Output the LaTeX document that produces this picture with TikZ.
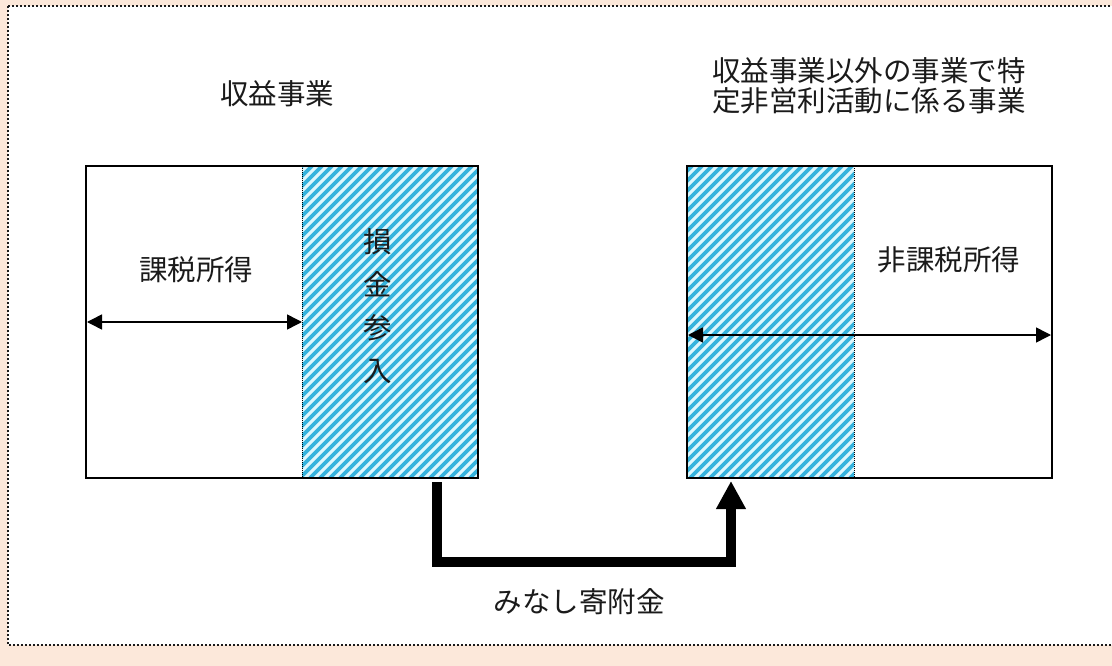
\documentclass[tikz,border=0pt]{standalone}
\usepackage{fontspec}
\setmainfont{Noto Sans CJK JP}
\usetikzlibrary{arrows.meta}
\definecolor{peach}{HTML}{FCE8DA}
\definecolor{stripe}{HTML}{35B3DD}
\definecolor{stripebg}{HTML}{DDF6FC}
\definecolor{ink}{HTML}{1A1A1A}
\begin{document}
\begin{tikzpicture}[x=1pt,y=-1pt,
  lbl/.style={inner sep=0pt, text=ink, font=\fontsize{28.5pt}{30pt}\selectfont},
  boxnode/.style={draw=black, line width=2pt, inner sep=0pt},
  divider/.style={draw=black, line width=1pt, dash pattern=on 1pt off 1pt},
  dimarrow/.style={draw=black, line width=1.5pt, {Triangle[length=15pt,width=15pt]}-{Triangle[length=15pt,width=15pt]}},
  flow/.style={draw=black, line width=9.5pt, line join=miter, -{Triangle[length=28pt,width=28pt]}},
  hatchline/.style={draw=stripe, line width=3.6pt}
]
\useasboundingbox (0,0) rectangle (1112,666);
\clip (0,0) rectangle (1112,666);
% background and frame
\fill[peach] (0,0) rectangle (1112,666);
\fill[white] (8,6) rectangle (1130,645);
\draw[draw=ink, line width=2pt, dash pattern=on 2pt off 2pt] (8,6) rectangle (1130,645);

% hatch areas
\begin{scope}
  \clip (302,166) rectangle (478,478);
  \fill[stripebg] (302,166) rectangle (478,478);
  \foreach \i in {-330,-320,...,500} \draw[hatchline] (\i,478) -- ++(312,-312);
\end{scope}
\begin{scope}
  \clip (687,166) rectangle (854,478);
  \fill[stripebg] (687,166) rectangle (854,478);
  \foreach \i in {-330,-320,...,900} \draw[hatchline] (\i,478) -- ++(312,-312);
\end{scope}

% boxes
\node[boxnode, minimum width=392pt, minimum height=312pt] (L) at (282,322) {};
\node[boxnode, minimum width=365pt, minimum height=312pt] (R) at (869.5,322) {};

% dividers
\coordinate (ldtop) at (302,166);
\coordinate (ldbot) at (302,478);
\coordinate (rdtop) at (854,166);
\coordinate (rdbot) at (854,478);
\draw[divider] (ldtop) -- (ldbot);
\draw[divider] (rdtop) -- (rdbot);

% dimension arrows
\coordinate (la) at (87,322);
\coordinate (lb) at (302,322);
\coordinate (ra) at (688,335);
\coordinate (rb) at (1051,335);
\draw[dimarrow] (la) -- (lb);
\draw[dimarrow] (ra) -- (rb);

% labels
\node[lbl] (t1) at (277,94) {収益事業};
\node[lbl, align=center] (t2) at (869,86) {収益事業以外の事業で特\\定非営利活動に係る事業};
\node[lbl] (k1) at (196,270) {課税所得};
\node[lbl] (k2) at (949,260) {非課税所得};
\node[lbl, align=center, font=\fontsize{28.5pt}{43pt}\selectfont] (sk) at (378,306) {損\\金\\参\\入};
\node[lbl] (mk) at (579,602) {みなし寄附金};

% thick flow arrow
\coordinate (fa) at (437,482);
\coordinate (fb) at (437,562);
\coordinate (fc) at (731,562);
\coordinate (fd) at (731,481);
\draw[flow] (fa) -- (fb) -- (fc) -- (fd);
\end{tikzpicture}
\end{document}
